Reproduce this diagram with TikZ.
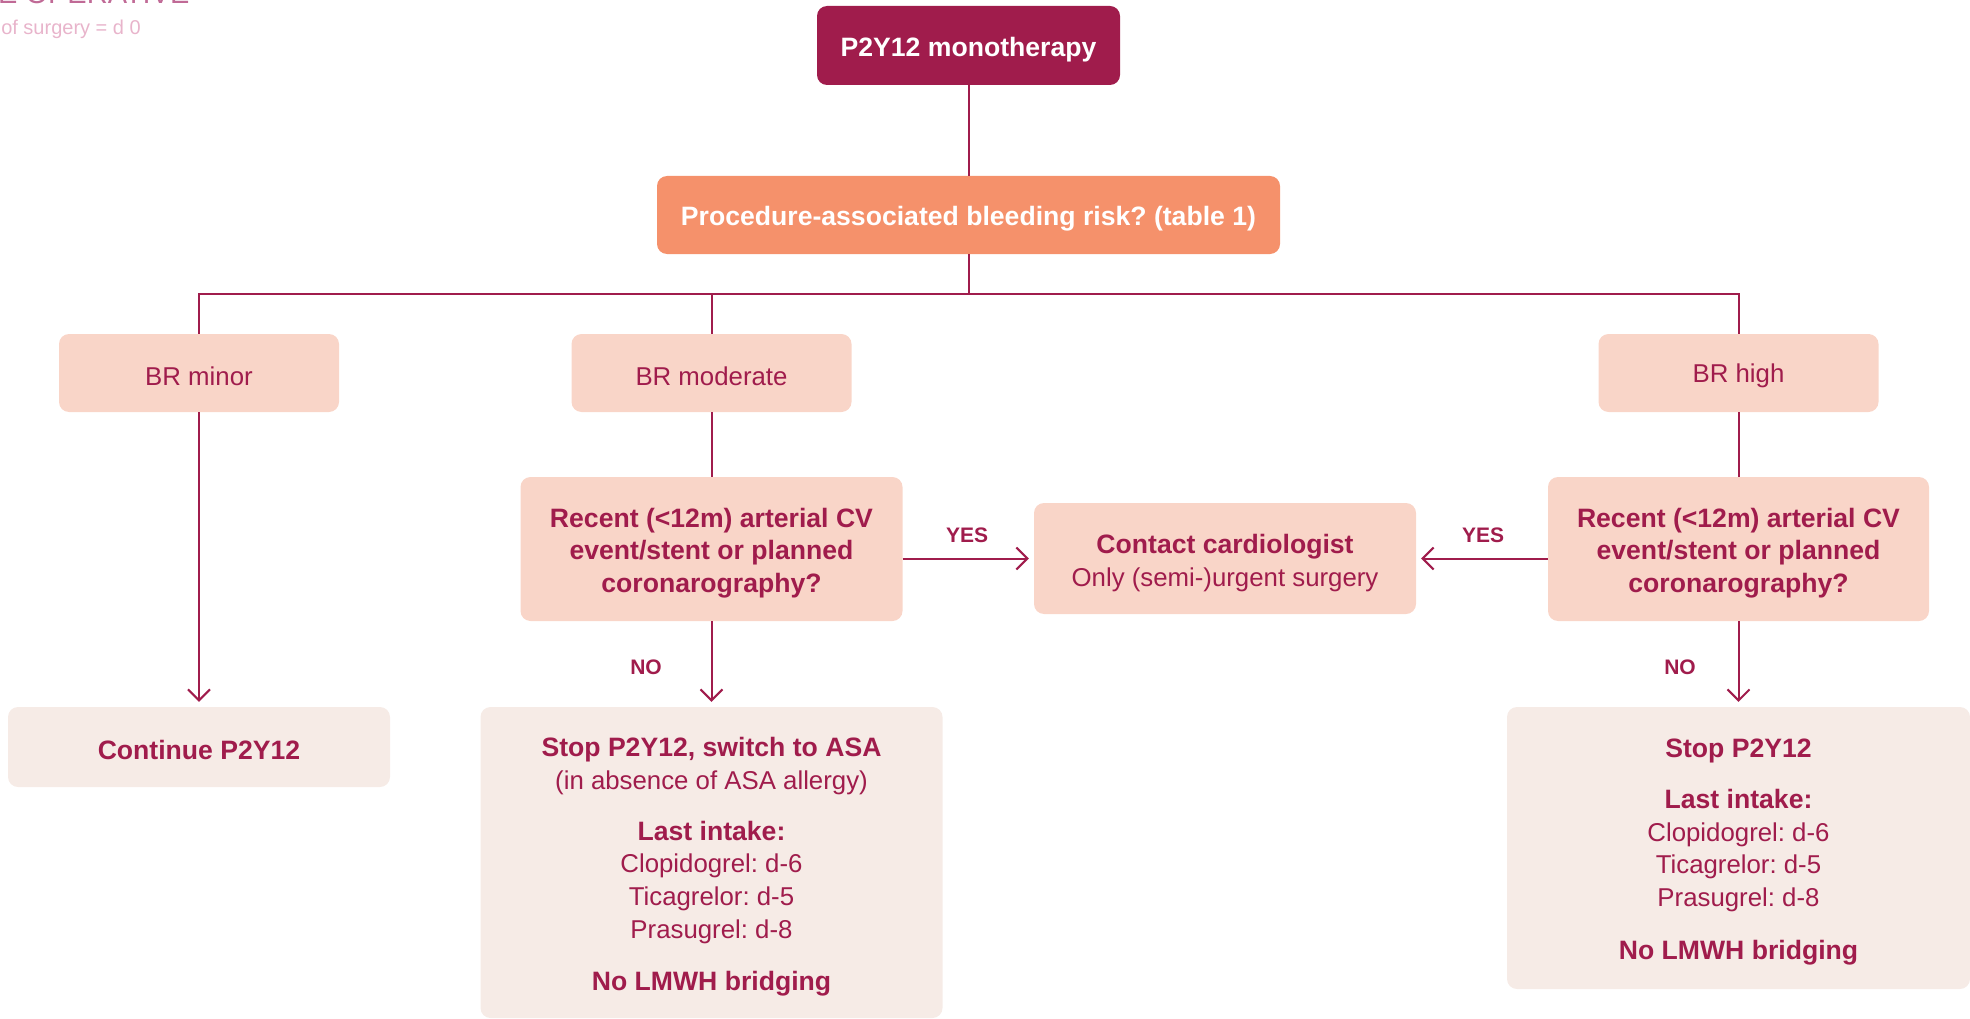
\documentclass[tikz,border=0pt]{standalone}
\usepackage{fontspec}
\setmainfont{Liberation Sans}
\usetikzlibrary{arrows.meta}
\definecolor{mag}{HTML}{A01C4C}
\definecolor{orng}{HTML}{F5916B}
\definecolor{peach}{HTML}{F9D5C8}
\definecolor{cream}{HTML}{F6EBE6}
\definecolor{faint}{HTML}{E8B4CB}
\definecolor{faintdark}{HTML}{C06A96}
\newcommand\bt[1]{{\fontsize{26.6}{32.7}\selectfont\bfseries #1}}
\frenchspacing
\begin{document}
\frenchspacing
\begin{tikzpicture}[x=1pt,y=-1pt,
  box/.style={rounded corners=10pt, inner sep=0pt},
  darkbox/.style={box, fill=mag},
  orangebox/.style={box, fill=orng},
  peachbox/.style={box, fill=peach},
  creambox/.style={box, fill=cream},
  txt/.style={align=center, text=mag, inner sep=0pt,
    font=\fontsize{25.8}{32.7}\selectfont\frenchspacing},
  wtxt/.style={txt, text=white},
  conn/.style={draw=mag, line width=2pt},
  arr/.style={conn, -{Straight Barb[length=11pt,width=22pt]}, shorten >=5pt},
  lbl/.style={text=mag, font=\fontsize{21}{24}\selectfont\bfseries, inner sep=0pt}
]
\useasboundingbox (0,0) rectangle (1970,1019);

% header text (cut off by the page edge, as in the reference)
\node[anchor=base west, text=faintdark, font=\fontsize{29}{30}\selectfont, inner sep=0pt] (ttl) at (-2,4) {E OPERATIVE};
\node[anchor=base east, text=faint, font=\fontsize{20}{24}\selectfont, inner sep=0pt] (daytxt) at (141,35) {of surgery = d 0};

% boxes
\node[darkbox, minimum width=303pt, minimum height=79pt] (top) at (968.5,45.5) {};
\node[orangebox, minimum width=623pt, minimum height=78pt] (proc) at (968.5,215) {};
\node[peachbox, minimum width=280pt, minimum height=78pt] (brminor) at (199,373) {};
\node[peachbox, minimum width=280pt, minimum height=78pt] (brmod) at (711.5,373) {};
\node[peachbox, minimum width=280pt, minimum height=78pt] (brhigh) at (1738.5,373) {};
\node[peachbox, minimum width=382pt, minimum height=144pt] (rec1) at (711.5,549) {};
\node[peachbox, minimum width=382pt, minimum height=111pt] (contact) at (1225,558.5) {};
\node[peachbox, minimum width=381pt, minimum height=144pt] (rec2) at (1738.5,549) {};
\node[creambox, minimum width=382pt, minimum height=80pt] (cont) at (199,747) {};
\node[creambox, minimum width=462pt, minimum height=311pt] (stop1) at (711.5,862.5) {};
\node[creambox, minimum width=463pt, minimum height=282pt] (stop2) at (1738.5,848) {};

% box texts
\node[wtxt] (top-t) at ([yshift=-4pt]top.center) {\bt{P2Y12 monotherapy}};
\node[wtxt] (proc-t) at ([yshift=-4pt]proc.center) {\bt{Procedure-associated bleeding risk? (table 1)}};
\node[txt] (brminor-t) at ([yshift=-3pt]brminor.center) {BR minor};
\node[txt] (brmod-t) at ([yshift=-3pt]brmod.center) {BR moderate};
\node[txt] (brhigh-t) at ([yshift=-3pt]brhigh.center) {BR high};
\node[txt] (rec1-t) at ([yshift=-4pt]rec1.center) {\bt{Recent (<12m) arterial CV}\\\bt{event/stent or planned}\\\bt{coronarography?}};
\node[txt] (contact-t) at ([yshift=-4.5pt]contact.center) {\bt{Contact cardiologist}\\Only (semi-)urgent surgery};
\node[txt] (rec2-t) at ([yshift=-4pt]rec2.center) {\bt{Recent (<12m) arterial CV}\\\bt{event/stent or planned}\\\bt{coronarography?}};
\node[txt] (cont-t) at ([yshift=-3pt]cont.center) {\bt{Continue P2Y12}};
\node[txt] (stop1-t) at ([yshift=-4.5pt]stop1.center) {\bt{Stop P2Y12, switch to ASA}\\(in absence of ASA allergy)\\[18pt]\bt{Last intake:}\\Clopidogrel: d-6\\Ticagrelor: d-5\\Prasugrel: d-8\\[20pt]\bt{No LMWH bridging}};
\node[txt] (stop2-t) at ([yshift=-4pt]stop2.center) {\bt{Stop P2Y12}\\[18pt]\bt{Last intake:}\\Clopidogrel: d-6\\Ticagrelor: d-5\\Prasugrel: d-8\\[20pt]\bt{No LMWH bridging}};

% labels
\node[lbl] (yes1) at (967,535) {YES};
\node[lbl] (yes2) at (1483,535) {YES};
\node[lbl] (no1) at (646,667) {NO};
\node[lbl] (no2) at (1680,667) {NO};

% connectors
\coordinate (jC) at (968.5,294);
\draw[conn] (top.south) -- (proc.north);
\draw[conn] (proc.south) -- (jC);
\draw[conn] (brminor.north) -- (brminor.north |- jC) -- (brhigh.north |- jC) -- (brhigh.north);
\draw[conn] (brmod.north) -- (brmod.north |- jC);
\draw[conn] (brmod.south) -- (rec1.north);
\draw[conn] (brhigh.south) -- (rec2.north);
\draw[arr] (brminor.south) -- (cont.north);
\draw[arr] (rec1.south) -- (stop1.north);
\draw[arr] (rec2.south) -- (stop2.north);
\draw[arr] (rec1.east |- contact.west) -- (contact.west);
\draw[arr] (rec2.west |- contact.east) -- (contact.east);
\end{tikzpicture}
\end{document}
